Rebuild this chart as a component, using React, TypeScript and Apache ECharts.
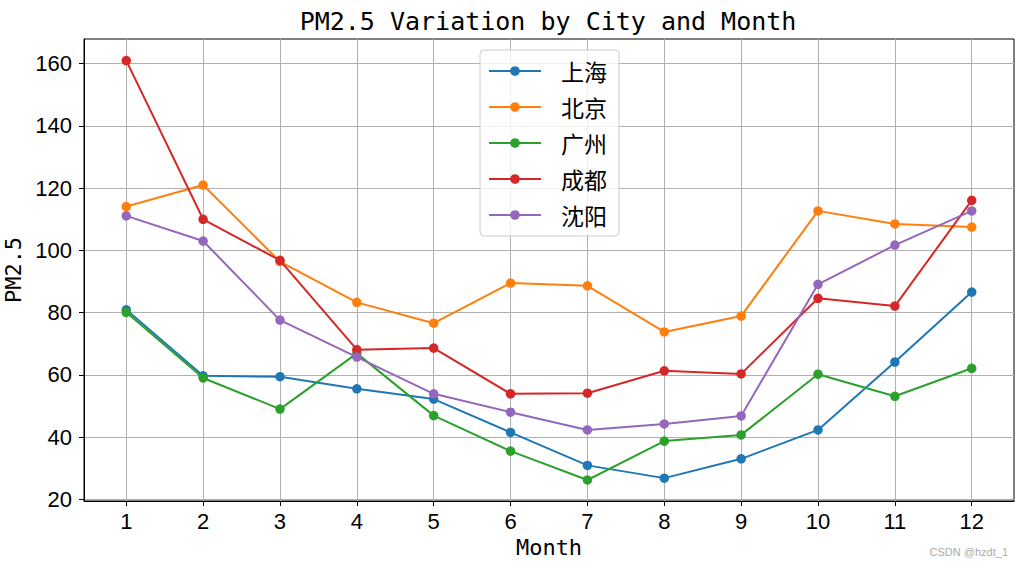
import React, { useEffect, useRef } from "react";
import * as echarts from "echarts";

const months = [1, 2, 3, 4, 5, 6, 7, 8, 9, 10, 11, 12];
const cities = ["上海", "北京", "广州", "成都", "沈阳"];
const shanghai = [80.9, 59.7, 59.4, 55.5, 52.2, 41.5, 30.9, 26.8, 33.0, 42.3, 64.1, 86.6];
const beijing = [114.1, 121.0, 96.4, 83.3, 76.6, 89.5, 88.6, 73.8, 78.9, 112.7, 108.5, 107.5];
const guangzhou = [80.1, 59.0, 49.0, 66.9, 46.9, 35.5, 26.2, 38.7, 40.7, 60.2, 53.1, 62.1];
const chengdu = [161.0, 110.0, 96.8, 68.1, 68.6, 53.9, 54.1, 61.3, 60.3, 84.6, 82.1, 116.1];
const shenyang = [111.1, 103.0, 77.6, 65.7, 53.9, 48.0, 42.3, 44.2, 46.8, 89.1, 101.7, 112.7];
const seriesValues = [shanghai, beijing, guangzhou, chengdu, shenyang];
const colors = ["#1f77b4", "#ff7f0e", "#2ca02c", "#d62728", "#9467bd"];
const yTicks = [20, 40, 60, 80, 100, 120, 140, 160];

const MONO = "'DejaVu Sans Mono', 'Noto Sans CJK SC', monospace";
const TICKFONT = "'Liberation Sans', Arial, sans-serif";

export default function App() {
  const ref = useRef<HTMLDivElement>(null);
  useEffect(() => {
    document.body.style.margin = "0";
    const chart = echarts.init(ref.current!, null, { renderer: "svg" });
    const option: any = {
      animation: false,
      backgroundColor: "#ffffff",
      graphic: [
        {
          type: "text",
          x: 548,
          y: 21,
          style: {
            text: "PM2.5 Variation by City and Month",
            textAlign: "center",
            textVerticalAlign: "middle",
            font: `25px ${MONO}`,
            fill: "#000",
          },
        },
        {
          type: "text",
          x: 1008,
          y: 552,
          style: {
            text: "CSDN @hzdt_1",
            textAlign: "right",
            textVerticalAlign: "middle",
            font: "11px 'Liberation Sans', Arial, sans-serif",
            fill: "#aaaaaa",
          },
        },
      ],
      grid: {
        left: 84,
        top: 39,
        width: 930,
        height: 462,
        outerBoundsMode: "none",
        containLabel: false,
        show: true,
        borderColor: "#000",
        borderWidth: 1,
        backgroundColor: "transparent",
      },
      legend: {
        orient: "vertical",
        left: 480,
        top: 50,
        padding: [8, 12, 8, 8],
        itemWidth: 52,
        itemHeight: 12,
        itemGap: 10,
        backgroundColor: "rgba(255,255,255,0.8)",
        borderColor: "#cccccc",
        borderWidth: 1,
        borderRadius: 4,
        textStyle: {
          fontFamily: "'Noto Sans CJK SC', sans-serif",
          fontSize: 23,
          lineHeight: 26,
          padding: [0, 0, 0, 15],
          color: "#000",
        },
        data: cities,
      },
      xAxis: {
        type: "value",
        min: 0.45,
        max: 12.55,
        name: "Month",
        nameLocation: "middle",
        nameGap: 34,
        nameTextStyle: { fontFamily: MONO, fontSize: 22, color: "#000" },
        axisLine: { show: true, onZero: false, lineStyle: { color: "#000", width: 1 } },
        axisTick: { show: true, length: 5, lineStyle: { color: "#000" }, customValues: months },
        axisLabel: {
          customValues: months,
          margin: 9,
          fontFamily: TICKFONT,
          fontSize: 22,
          color: "#000",
        },
        splitLine: { show: true, lineStyle: { color: "#b0b0b0", width: 1 } },
      },
      yAxis: {
        type: "value",
        min: 19.45,
        max: 167.95,
        name: "PM2.5",
        nameLocation: "middle",
        nameGap: 52,
        nameTextStyle: { fontFamily: MONO, fontSize: 22, color: "#000" },
        axisLine: { show: true, onZero: false, lineStyle: { color: "#000", width: 1 } },
        axisTick: { show: true, length: 5, lineStyle: { color: "#000" }, customValues: yTicks },
        axisLabel: {
          customValues: yTicks,
          margin: 12,
          fontFamily: TICKFONT,
          fontSize: 22,
          color: "#000",
        },
        splitLine: { show: true, lineStyle: { color: "#b0b0b0", width: 1 } },
      },
      series: cities.map((c, i) => ({
        name: c,
        type: "line",
        data: months.map((m, j) => [m, seriesValues[i][j]]),
        symbol: "circle",
        symbolSize: 9.5,
        showSymbol: true,
        lineStyle: { width: 2, color: colors[i] },
        itemStyle: { color: colors[i] },
        color: colors[i],
        z: 3 + i,
      })),
    };
    chart.setOption(option);
    return () => chart.dispose();
  }, []);
  return (
    <div
      ref={ref}
      style={{ position: "fixed", left: 0, top: 0, width: 1023, height: 568 }}
    />
  );
}
